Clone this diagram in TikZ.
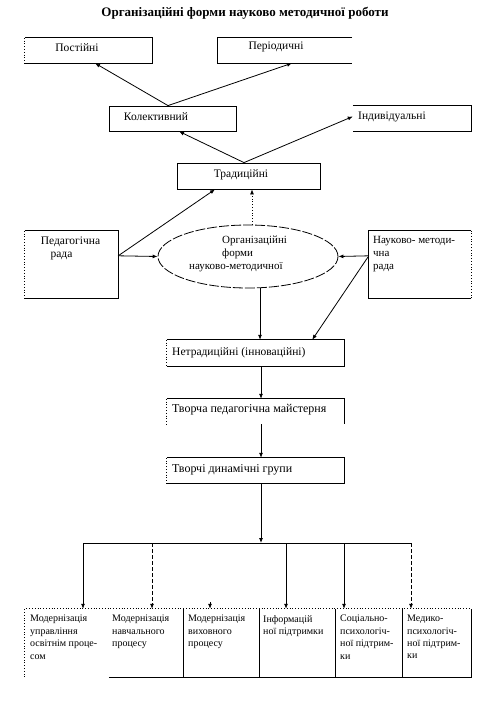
\documentclass[tikz,border=0pt]{standalone}
\usepackage{fontspec}
\setmainfont{Liberation Serif}
\usetikzlibrary{arrows.meta,calc,shapes.geometric}
\begin{document}
\begin{tikzpicture}[x=1pt,y=-1pt,
  every node/.style={font=\fontsize{11.5}{13}\selectfont},
  frame/.style={draw=none, inner sep=0pt, rectangle},
  solidedge/.style={line width=0.8pt},
  dotedge/.style={line width=0.8pt, dotted},
  arr/.style={line width=0.8pt, -{Latex[length=5pt,width=4pt]}},
  dasharr/.style={arr, dash pattern=on 4pt off 2pt},
  dotarr/.style={arr, dotted},
  lbl/.style={inner sep=0pt},
  lblw/.style={inner sep=0pt, anchor=west},
  multi/.style={inner sep=0pt, anchor=north west, align=left, font=\fontsize{11}{13}\selectfont},
  small/.style={inner sep=0pt, anchor=north west, align=left, font=\fontsize{10}{12.4}\selectfont},
  ]
\useasboundingbox (0,0) rectangle (495,714);

% title
\node[font=\bfseries\fontsize{13}{15}\selectfont] (title) at (245,13) {Організаційні форми науково методичної роботи};

% Постійні
\node[frame, minimum width=127pt, minimum height=25pt] (post) at (88.5,50.5) {};
\draw[dotedge] (post.north west) -- (post.south west);
\draw[solidedge] (post.south west) -- (post.south east) -- (post.north east) -- (post.north west);
\node[lbl] (postt) at (77,48) {Постійні};

% Періодичні
\node[frame, minimum width=134pt, minimum height=25pt] (period) at (285,50.5) {};
\draw[solidedge] (period.north east) -- (period.north west) -- (period.south west) -- (period.south east);
\node[lbl] (periodt) at (276,47) {Періодичні};

% Колективний
\node[frame, draw, solidedge, minimum width=127pt, minimum height=25pt] (kol) at (172.5,118.5) {};
\node[lbl] (kolt) at (156,117) {Колективний};

% Індивідуальні
\node[frame, minimum width=118pt, minimum height=25pt] (ind) at (412,118.5) {};
\draw[solidedge] (ind.north west) -- (ind.north east) -- (ind.south east) -- (ind.south west);
\node[lbl] (indt) at (392,117) {Індивідуальні};

% Традиційні
\node[frame, draw, solidedge, minimum width=143pt, minimum height=26pt] (trad) at (248.5,176) {};
\node[lbl] (tradt) at (241,175) {Традиційні};

% Педагогічна рада
\node[frame, minimum width=93pt, minimum height=67pt] (ped) at (71.5,264.5) {};
\draw[dotedge] (ped.north west) -- (ped.south west);
\draw[solidedge] (ped.south west) -- (ped.south east) -- (ped.north east) -- (ped.north west);
\node[lbl] (pedt1) at (70.5,242) {Педагогічна};
\node[lbl] (pedt2) at (61.5,256) {рада};

% ellipse
\node[ellipse, draw, line width=0.8pt, dash pattern=on 10pt off 2pt, minimum width=180pt, minimum height=63pt, inner sep=0pt] (ell) at (248,256.5) {};
\node[multi] (ellt) at (189,236) {\hspace*{33pt}Організаційні\\\hspace*{33pt}форми\\науково-методичної};

% Науково-методична рада
\node[frame, minimum width=102pt, minimum height=67pt] (nm) at (420,264.5) {};
\draw[solidedge] (nm.north east) -- (nm.north west) -- (nm.south west) -- (nm.south east);
\draw[dotedge] (nm.south east) -- (nm.north east);
\node[multi] (nmt) at (373,236) {Науково- методи-\\чна\\рада};

% Нетрадиційні
\node[frame, minimum width=177pt, minimum height=26pt] (netrad) at (255.5,353) {};
\draw[dotedge] (netrad.north west) -- (netrad.south west);
\draw[solidedge] (netrad.south west) -- (netrad.south east) -- (netrad.north east) -- (netrad.north west);
\node[lblw] (netradt) at (172,353) {Нетрадиційні (інноваційні)};

% Творча педагогічна майстерня
\node[frame, minimum width=177pt, minimum height=25pt] (tvor) at (255.5,411.5) {};
\draw[dotedge] (tvor.north west) -- (tvor.south west);
\draw[solidedge] (tvor.north west) -- (tvor.north east) -- (tvor.south east);
\node[lblw, font=\fontsize{12}{14}\selectfont] (tvort) at (172,410) {Творча педагогічна майстерня};

% Творчі динамічні групи
\node[frame, minimum width=177pt, minimum height=25pt] (grup) at (255.5,470.5) {};
\draw[dotedge] (grup.north west) -- (grup.south west);
\draw[solidedge] (grup.south west) -- (grup.south east) -- (grup.north east) -- (grup.north west);
\node[lblw, font=\fontsize{12}{14}\selectfont] (grupt) at (172,470) {Творчі динамічні групи};

% bottom cells
\node[frame, minimum width=84pt, minimum height=68pt] (b1) at (67,643) {};
\node[frame, minimum width=75pt, minimum height=68pt] (b2) at (146.5,643) {};
\node[frame, minimum width=76pt, minimum height=68pt] (b3) at (222,643) {};
\node[frame, minimum width=76pt, minimum height=68pt] (b4) at (298,643) {};
\node[frame, minimum width=67pt, minimum height=68pt] (b5) at (369.5,643) {};
\node[frame, minimum width=68pt, minimum height=68pt] (b6) at (437,643) {};
\draw[dotedge] (b1.south west) -- (b1.north west) -- (b6.north east);
\draw[solidedge] (b2.south west) -- (b6.south east) -- (b6.north east);
\draw[solidedge] (b3.north west) -- (b3.south west);
\draw[solidedge] (b4.north west) -- (b4.south west);
\draw[solidedge] (b5.north west) -- (b5.south west);
\draw[solidedge] (b6.north west) -- (b6.south west);

\node[small] (b1t) at (30,615) {Модернізація\\управління\\освітнім проце-\\сом};
\node[small] (b2t) at (112,615) {Модернізація\\навчального\\процесу};
\node[small] (b3t) at (188,615) {Модернізація\\виховного\\процесу};
\node[small] (b4t) at (263,615) {Інформацій\\ної підтримки};
\node[small] (b5t) at (340,615) {Соціально-\\психологіч-\\ної підтрим-\\ки};
\node[small] (b6t) at (407,615) {Медико-\\психологіч-\\ної підтрим-\\ки};

% connectors top
\draw[arr] ([xshift=-4.5pt]kol.north) -- ([xshift=6.5pt]post.south);
\draw[arr] ([xshift=-4.5pt]kol.north) -- ([xshift=7pt]period.south);
\draw[arr] ([xshift=-4.5pt]trad.north) -- ([xshift=6.5pt]kol.south);
\draw[arr] ([xshift=-4.5pt]trad.north) -- ([yshift=2pt]ind.west);

% middle
\draw[arr] ([yshift=-25pt]ped.north east) -- (ell.west);
\draw[arr] ([yshift=-25pt]ped.north east) -- ([xshift=-33.5pt]trad.south);
\draw[dotarr] ([xshift=4pt]ell.north) -- ([xshift=4pt]ell.north |- trad.south);
\draw[arr] ([yshift=-25pt]nm.north west) -- (ell.east);
\draw[arr] ([yshift=-25pt]nm.north west) -- ([xshift=-32pt]netrad.north east);
\draw[arr] ([xshift=12pt]ell.south) -- ([xshift=4.5pt]netrad.north);

% chain
\draw[arr] ([xshift=5.5pt]netrad.south) -- ([xshift=5.5pt]tvor.north);
\draw[arr] ([xshift=5.5pt]tvor.south) -- ([xshift=5.5pt]grup.north);
\coordinate (bus) at (261,543);
\draw[arr] ([xshift=5.5pt]grup.south) -- (bus);

% bus
\coordinate (busL) at (83,543);
\coordinate (bus2) at (152,543);
\coordinate (stub3) at (210,602);
\coordinate (bus4) at (286,543);
\coordinate (bus5) at (344,543);
\coordinate (busR) at (411,543);
\draw[solidedge] (busL) -- (busR);
\draw[arr] (busL) -- (busL |- b1.north);
\draw[dasharr] (bus2) -- (bus2 |- b2.north);
\draw[arr] (stub3) -- (stub3 |- b3.north);
\draw[arr] (bus4) -- (bus4 |- b4.north);
\draw[arr] (bus5) -- (bus5 |- b5.north);
\draw[dasharr] (busR) -- (busR |- b6.north);
\end{tikzpicture}
\end{document}
